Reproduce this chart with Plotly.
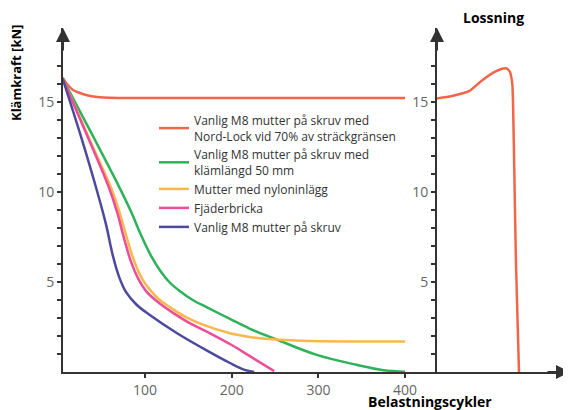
import plotly.graph_objects as go

# ---- data ----
red_x = [5, 10, 17, 25, 33, 45, 60, 80, 150, 250, 400]
red_y = [16.35, 16.0, 15.67, 15.5, 15.38, 15.28, 15.23, 15.22, 15.22, 15.22, 15.22]

green_x = [5, 40, 70, 84, 95, 107, 117, 128, 140, 155, 171, 198, 221, 252, 298, 344, 375, 400]
green_y = [16.3, 13.1, 10.3, 8.9, 7.65, 6.45, 5.67, 5.0, 4.5, 4.0, 3.6, 2.95, 2.4, 1.8,
           0.95, 0.4, 0.1, 0.02]

yellow_x = [5, 40, 62, 72, 80, 88, 97, 106, 117, 129, 145, 163, 198, 221, 252, 290, 400]
yellow_y = [16.3, 12.5, 10.1, 8.65, 7.3, 6.1, 5.15, 4.55, 4.0, 3.6, 3.1, 2.7, 2.15, 1.95,
            1.8, 1.72, 1.7]

pink_x = [5, 35, 58, 68, 76, 84, 92, 102, 117, 135, 152, 175, 200, 221, 249]
pink_y = [16.3, 12.95, 10.3, 8.85, 7.4, 6.1, 5.2, 4.45, 3.8, 3.2, 2.7, 2.15, 1.5, 0.88, 0.05]

blue_x = [5, 27, 45, 55, 63, 70, 78, 90, 106, 137, 171, 198, 215, 226]
blue_y = [16.3, 12.95, 10.0, 8.2, 6.45, 5.3, 4.45, 3.75, 3.15, 2.15, 1.2, 0.5, 0.12, 0.0]

loss_x = [0, 15, 32, 45, 58.7, 68.7, 72.7, 75.3, 76.3, 77.3, 79, 82]
loss_y = [15.2, 15.33, 15.6, 16.2, 16.7, 16.87, 16.7, 16.0, 14.2, 11.2, 6.0, 0.0]

names = [
    "Vanlig M8 mutter på skruv med<br>Nord-Lock vid 70% av sträckgränsen",
    "Vanlig M8 mutter på skruv med<br>klämlängd 50 mm",
    "Mutter med nyloninlägg",
    "Fjäderbricka",
    "Vanlig M8 mutter på skruv",
]
colors = ["#f26548", "#2db25a", "#f9b84a", "#ee4b98", "#4b4a9f"]

y_ticks = list(range(1, 18))
y_text = [str(v) if v in (5, 10, 15) else "" for v in y_ticks]
x_ticks = [100, 200, 300, 400]

# page has an 8px body margin; positions below are figure pixels
OFF = 8
W, H = 571, 410
L = 63 - OFF
T = 28 - OFF
R = W - (565 - OFF)
B = H - (372 - OFF)
PW = W - L - R
PH = H - T - B


def px(xpage):
    return (xpage - OFF - L) / PW


def py(ypage):
    return (H - B - (ypage - OFF)) / PH


split = px(437)

fig = go.Figure()
series = [(red_x, red_y), (green_x, green_y), (yellow_x, yellow_y),
          (pink_x, pink_y), (blue_x, blue_y)]
for (xs, ys), n, c in zip(series, names, colors):
    fig.add_trace(go.Scatter(x=xs, y=ys, name=n, mode="lines",
                             line=dict(color=c, width=2.5, shape="spline", smoothing=1.0),
                             xaxis="x", yaxis="y"))
fig.add_trace(go.Scatter(x=loss_x, y=loss_y, mode="lines", showlegend=False,
                         line=dict(color=colors[0], width=2.5, shape="spline", smoothing=0.6),
                         xaxis="x2", yaxis="y2"))

axcol = "#333333"
tickfont = dict(family="Open Sans", size=14, color="#666666")
yr = [0, PH / 18.0]
xr = [(63 - 58.3) / 0.867, (437 - 58.3) / 0.867]

common_y = dict(range=yr, showgrid=False, zeroline=False, tickmode="array",
                tickvals=y_ticks, ticklen=4, tickwidth=1.5, tickcolor=axcol)

fig.update_layout(
    width=W, height=H,
    margin=dict(l=L, r=R, t=T, b=B, autoexpand=False),
    plot_bgcolor="white", paper_bgcolor="white",
    font=dict(family="Open Sans", color="#333333"),
    showlegend=True,
    legend=dict(x=px(154), y=py(106), xanchor="left", yanchor="top",
                font=dict(family="Open Sans", size=12, color="#333333"),
                bgcolor="rgba(0,0,0,0)", tracegroupgap=0, itemwidth=30),
    xaxis=dict(domain=[0, split], range=xr, showline=True, linecolor=axcol, linewidth=2,
               showgrid=False, zeroline=False, tickmode="array", tickvals=x_ticks,
               ticks="outside", ticklen=4, tickwidth=1.5, tickcolor=axcol,
               tickfont=tickfont, anchor="y"),
    xaxis3=dict(overlaying="x", range=xr, showgrid=False, zeroline=False,
                tickmode="array", tickvals=x_ticks, ticks="inside", ticklen=4,
                tickwidth=1.5, tickcolor=axcol, showticklabels=False, anchor="y"),
    xaxis2=dict(domain=[split, 1], range=[0, 128], showline=True, linecolor=axcol,
                linewidth=2, showgrid=False, zeroline=False, showticklabels=False,
                ticks="", anchor="y2"),
    yaxis=dict(**common_y, ticktext=y_text, ticks="outside", showline=True,
               linecolor=axcol, linewidth=2, tickfont=tickfont, anchor="x"),
    yaxis3=dict(**common_y, ticks="inside", showticklabels=False, overlaying="y",
                anchor="x"),
    yaxis2=dict(**common_y, ticktext=y_text, ticks="outside", showline=True,
                linecolor=axcol, linewidth=2, tickfont=tickfont, anchor="x2"),
    yaxis4=dict(**common_y, ticks="inside", showticklabels=False, overlaying="y2",
                anchor="x2"),
)

bold = dict(family="Open Sans", size=14, color="black")
arrow = dict(xref="paper", yref="paper", text="", showarrow=True, arrowhead=2,
             arrowsize=1.4, arrowwidth=2, arrowcolor=axcol)
annotations = [
    dict(x=0, y=1, ax=0, ay=24, **arrow),
    dict(x=split, y=1, ax=0, ay=24, **arrow),
    dict(x=px(570), y=0, ax=-24, ay=0, **arrow),
    dict(x=px(16), y=py(73), xref="paper", yref="paper", xanchor="center",
         yanchor="middle", text="<b>Klämkraft [kN]</b>", textangle=-90,
         showarrow=False, font=dict(family="Open Sans", size=13, color="black")),
    dict(x=px(493), y=py(18), xref="paper", yref="paper", xanchor="center",
         yanchor="middle", text="<b>Lossning</b>", showarrow=False, font=bold),
    dict(x=px(430), y=py(401), xref="paper", yref="paper", xanchor="center",
         yanchor="middle", text="<b>Belastningscykler</b>", showarrow=False, font=bold),
]
fig.update_layout(annotations=annotations)

fig.write_html("out.html")
